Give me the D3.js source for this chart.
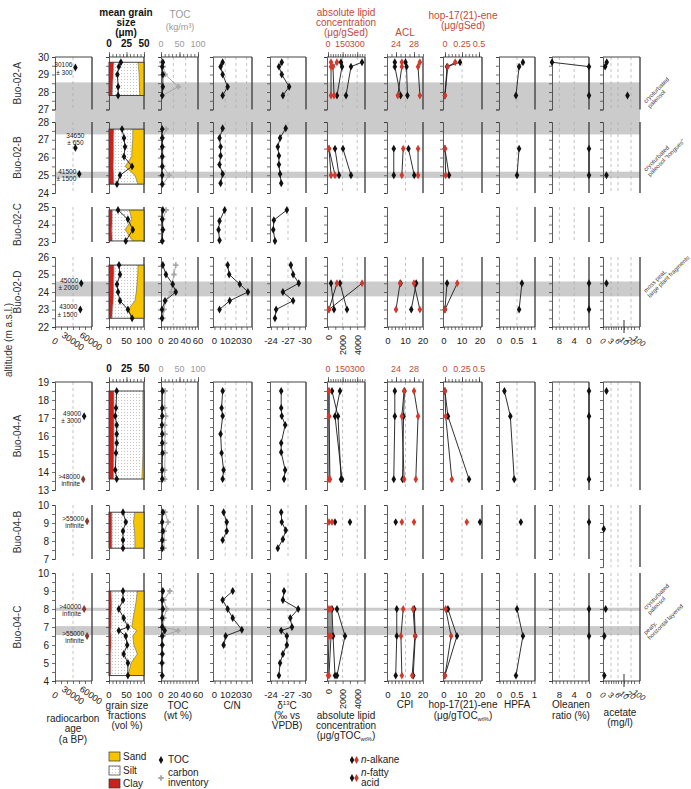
<!DOCTYPE html>
<html>
<head>
<meta charset="utf-8">
<script src="https://cdn.jsdelivr.net/npm/d3@7"></script>
<style>
body { margin: 0; background: #fff; }
svg { font-family: "Liberation Sans", Arial, sans-serif; }
</style>
</head>
<body>
<svg id="chart" width="691" height="789"></svg>
<script>
// ---------- data ----------
var sections = ["Buo-02-A", "Buo-02-B", "Buo-02-C", "Buo-02-D", "Buo-04-A", "Buo-04-B", "Buo-04-C"];
var altMax = [30, 28, 25, 26, 19, 10, 10];
var altMin = [27, 24, 23, 22, 13, 7, 4];

// grain size / TOC samples
var grainAlt = [
  [29.7, 29.45, 29.0, 28.3, 27.8],
  [27.6, 27.1, 26.6, 26.05, 25.5, 25.0, 24.5],
  [24.83, 24.3, 23.7, 23.06],
  [25.54, 25.0, 24.45, 24.0, 23.5, 23.0, 22.5],
  [18.5, 17.56, 17.11, 16.61, 16.11, 15.61, 15.06, 14.11, 13.61],
  [9.6, 9.05, 8.55, 8.05, 7.6],
  [9.0, 8.5, 8.0, 7.5, 7.0, 6.8, 6.5, 6.0, 5.5, 5.0, 4.3]
];
var meanGrain = [
  [17, 14, 12, 13, 13],
  [18.6, 21.4, 22.9, 21.4, 32.9, 15.7, 11.4],
  [12.9, 27, 34, 24],
  [14.3, 15.7, 11.4, 12.9, 15.7, 27, 33],
  [11, 10, 9, 11, 11, 11, 10, 9, 11],
  [20, 24, 20, 20, 20],
  [20, 20, 14, 21, 27, 14, 24, 26, 21, 27, 27]
];
var clayPct = [
  [14, 13, 12, 10, 9],
  [14, 13, 13, 13, 12, 13, 14],
  [9, 9, 8, 9],
  [14, 14, 13, 13, 12, 10, 8],
  [14, 14, 14, 14, 14, 14, 14, 13, 13],
  [8, 8, 8, 8, 8],
  [6, 7, 7, 6, 6, 5, 6, 6, 5, 5, 5]
];
var sandPct = [
  [17, 16, 14, 13, 12],
  [32, 32, 34, 35, 54, 26, 17],
  [42, 35, 54, 32],
  [17, 18, 20, 22, 26, 45, 35],
  [3, 3, 3, 3, 3, 3, 3, 5, 6],
  [26, 30, 27, 26, 26],
  [19, 22, 26, 31, 35, 21, 32, 29, 19, 37, 45]
];
var tocWt = [
  [3, 2, 3, 3, 2],
  [2, 2, 2, 2, 2, 2, 2],
  [3, 2, 3, 2],
  [3, 8, 19, 24, 6.5, 1.6, 1.6],
  [2.5, 2, 2, 1.5, 2, 2, 2.5, 2, 2],
  [3, 2, 3, 2, 2],
  [3, 2, 3, 2, 2, 6, 2, 2, 2, 1.5, 2]
];
var carbonInv = [
  [2, 6, 11, 47, 4],
  [14, 4, 5, 5, 5, 22, 5],
  [14, 5, 5, 4],
  [40, 35, 30, 28, 12, 8, 5],
  [11, 10, 13, 10, 11, 10, 11, 10, 10],
  [11, 19, 9, 8, 8],
  [24, 8, 15, 8, 6, 46, 5, 4, 4, 4, 4]
];

// C/N
var cnAlt = [
  [29.7, 29.45, 29.0, 28.3, 27.8],
  [27.65, 27.1, 26.6, 26.1, 25.6, 25.07, 24.55],
  [24.83, 24.2, 23.7, 23.1],
  [25.54, 25.0, 24.45, 24.0, 23.5, 23.0],
  [18.5, 17.56, 17.11, 16.11, 15.06, 14.11, 13.61],
  [9.6, 9.05, 8.55, 8.05],
  [9.0, 8.5, 8.0, 7.5, 6.85, 6.5, 6.0]
];
var cnRatio = [
  [7.6, 5.7, 7.6, 12.3, 7.6],
  [7.6, 4.7, 5.7, 5.7, 4.7, 7.6, 5.7],
  [9.5, 4.7, 3.8, 4.7],
  [12.3, 13.7, 23.6, 31.2, 14.2, 4.7],
  [7.6, 6.6, 7.6, 5.7, 6.6, 8.5, 7.6],
  [8.5, 11.4, 11.4, 7.6],
  [17, 7.6, 12.3, 17, 25.5, 10.4, 8.5]
];

// delta 13C
var d13Alt = [
  [29.7, 29.45, 29.0, 28.3, 27.8],
  [27.65, 27.1, 26.6, 26.1, 25.6, 25.07, 24.55],
  [24.83, 24.25, 23.7, 23.06],
  [25.54, 25.0, 24.5, 24.0, 23.5, 23.0, 22.5],
  [18.5, 17.56, 17.11, 16.61, 15.61, 15.1, 14.11, 13.61],
  [9.6, 9.05, 8.6, 8.1, 7.6],
  [9.0, 8.5, 8.0, 7.5, 7.0, 6.8, 6.5, 6.0, 5.5, 5.0, 4.3]
];
var d13C = [
  [-25.9, -25.4, -25.9, -27.2, -26.1],
  [-26.6, -25.6, -25.2, -25.4, -25.4, -25.6, -25.8],
  [-26.8, -24.5, -24.4, -24.7],
  [-27.5, -27.9, -28.9, -26.1, -27.9, -24.9, -24.7],
  [-25.8, -25.8, -25.9, -26.5, -25.8, -25.8, -26.5, -26.3],
  [-25.8, -25.9, -26.6, -26.1, -25.2],
  [-26.3, -26.1, -28.8, -27.4, -27.7, -25.8, -26.8, -26.8, -26.1, -25.6, -25.4]
];

// biomarker samples
var bioAlt = [[29.7, 29.45, 27.8], [26.5, 25.0], [], [24.5, 23.0], [18.5, 17.1, 13.6], [9.05], [8.0, 6.5, 4.3]];
var alkaneToc = [[1780, 1920, 1230], [960, 1510], [], [410, 820], [550, 1370, 1780], [960], [550, 690, 960]];
var fattyToc = [[4660, 3150, 2470], [2050, 3150], [], [1640, 2600], [1640, 960, 1920], [3010], [1230, 2330, 1230]];
var alkaneSed = [[31, 31, 31], [10, 31], [], [350, 10], [10, 10, 10], [10], [10, 10, 0]];
var fattySed = [[92, 51, 62], [10, 72], [], [92, 10], [10, 10, 20], [41], [31, 31, 10]];
var cpiAlk = [[3.9, 3.9, 7.2], [3.3, 3.3], [], [7.2, null], [3.9, 3.9, 3.3], [4.4], [5, 5, 4.4]];
var cpiFa = [[10, 10.6, 11.1], [11.7, 15], [], [16.1, 13.3], [9.4, 8.9, 8.3], [null], [15, 15.6, 14.4]];
var aclAlk = [[25.3, 25.3, 24.4], [25.6, 25.3], [], [24.9, 24.0], [25.8, 25.3, 25.8], [25.3], [25.6, 25.1, 25.3]];
var aclFa = [[29.3, 28.9, 29.3], [28.9, 28.9], [], [28.0, 29.3], [28.0, 28.9, 28.4], [28.0], [27.8, 28.2, 27.6]];
var hopToc = [[8.9, 1.7, 0.5], [0.5, 2.8], [], [1.7, 0.5], [0.5, 2.2, 13.9], [20], [2.2, 7.2, 0.5]];
var hopSed = [[0.15, 0.04, 0], [0, 0.01], [], [0.18, 0], [0, 0.01, 0.1], [0.32], [0.01, 0.09, 0]];
var hpfa = [[0.67, 0.56, 0.47], [0.56, 0.5], [], [0.64, 0.56], [0.14, 0.31, 0.42], [0.61], [0.5, 0.67, 0.47]];
var oleanen = [[10, 0, 0], [0, 0], [], [0, 0], [0, 0, 0], [0], [0, 0, null]];

// acetate
var aceAlt = [[29.7, 29.45, 27.8], [25.0], [], [24.5], [18.5], [8.67], [8.0, 6.5, 4.3]];
var acetate = [[1.4, 0.8, 15], [1.3], [], [1.3], [1.3], [0.3], [1.0, 0.5, 0.5]];

// radiocarbon
var rcAlt = [[29.4], [26.54, 25.07], [], [24.5, 23.0], [17.1, 13.6], [9.1], [8.0, 6.5]];
var rcAge = [[34000], [34000, 40500], [], [43800, 42200], [48600, 47000], [53500], [48600, 53500]];
var rcText = [["30106"], ["34650", "41500"], [], ["45000", "43000"], ["49000", ">48000"], [">55000"], [">40000", ">55000"]];
var rcErr = [["± 300"], ["± 650", "± 1500"], [], ["± 2000", "± 1500"], ["± 3000", "infinite"], ["infinite"], ["infinite", "infinite"]];

// highlighted layers: [section, altitude, section, altitude]
var bands = [[0, 28.55, 1, 27.3], [1, 25.2, 1, 24.85], [3, 24.6, 3, 23.75], [6, 8.07, 6, 7.9], [6, 7.05, 6, 6.55]];
var notes = [
  [0, 27.35, "cryoturbated", "paleosol"],
  [1, 25.2, "cryoturbated", "paleosol \"tongues\""],
  [3, 23.95, "moss peat,", "large plant fragments"],
  [6, 7.95, "cryoturbated", "paleosol"],
  [6, 6.55, "peaty,", "horizontal layered"]
];

// ---------- layout ----------
var RED = "#c44a35", REDDOT = "#d4382b", INK = "#222", FONT = "Liberation Sans, Arial, sans-serif";
var clayColor = "#c8231b", sandColor = "#f6c500";
var secTop = [57, 122, 207, 257, 382, 505, 573];
var ppm = [17.5, 17.75, 17.5, 17.5, 18, 18, 18];
var firstOfGroup = [true, false, false, false, true, false, false];
var lastOfGroup = [false, false, false, true, false, false, true];

var ys = sections.map(function (s, i) {
  return d3.scaleLinear().domain([altMin[i], altMax[i]])
    .range([secTop[i] + (altMax[i] - altMin[i]) * ppm[i], secTop[i]]);
});

var cols = {
  rc: [55, 92], grain: [109, 144], toc: [161, 198], cn: [213, 252], d13c: [270, 306],
  lipid: [327, 365], cpi: [387, 423], hop: [443, 482], hpfa: [499, 535], olean: [552, 589], acet: [603, 640]
};

var xRc = d3.scaleLinear().domain([0, 60000]).range([55, 91]);
var xVol = d3.scaleLinear().domain([0, 100]).range([109, 144]);
var xMg = d3.scaleLinear().domain([0, 50]).range([109, 144]);
var xToc = d3.scaleLinear().domain([0, 60]).range([161, 198]);
var xInv = d3.scaleLinear().domain([0, 100]).range([161, 198]);
var xCn = d3.scaleLinear().domain([0, 35]).range([214.5, 252]);
var xD13 = d3.scaleLinear().domain([-24, -30]).range([271, 305]);
var xLipT = d3.scaleLinear().domain([0, 5000]).range([328, 364.5]);
var xLipS = d3.scaleLinear().domain([0, 375]).range([328, 364.5]);
var xCpi = d3.scaleLinear().domain([0, 20]).range([388, 423]);
var xAcl = d3.scaleLinear().domain([22, 30]).range([387, 423]);
var xHopT = d3.scaleLinear().domain([0, 20]).range([444, 480]);
var xHopS = d3.scaleLinear().domain([0, 0.5]).range([445, 479]);
var xHpfa = d3.scaleLinear().domain([0, 1]).range([499.5, 534.5]);
var xOle = d3.scaleLinear().domain([10, 0]).range([552, 589]);
var xAce = d3.scaleLinear().domain([0, 3, 6, 10, 20, 100]).range([603, 611, 618, 624, 631, 639]);

var panelDefs = [
  { key: "rc", bx: xRc, dash: [30000], bMajor: [0, 30000, 60000], bMinor: d3.range(0, 60001, 10000), bRot: 35 },
  { key: "grain", bx: xVol, dash: [], bMajor: [0, 50, 100], bMinor: d3.range(0, 101, 10),
    tx: xMg, tMajor: [0, 25, 50], tMinor: d3.range(0, 51, 5), tColor: "#111", tBold: true },
  { key: "toc", bx: xToc, dash: [20, 40], bMajor: [0, 20, 40, 60], bMinor: d3.range(0, 61, 5),
    tx: xInv, tMajor: [0, 50, 100], tMinor: d3.range(0, 101, 10), tColor: "#9a9a9a" },
  { key: "cn", bx: xCn, dash: [10, 20, 30], bMajor: [0, 10, 20, 30], bMinor: d3.range(0, 36, 5) },
  { key: "d13c", bx: xD13, dash: [-27], bMajor: [-24, -27, -30], bMinor: d3.range(-24, -30.5, -1) },
  { key: "lipid", bx: xLipT, dash: [2000, 4000], bMajor: [0, 2000, 4000], bMinor: d3.range(0, 5001, 1000), bRot: -90,
    tx: xLipS, tMajor: [0, 150, 300], tMinor: d3.range(0, 376, 25), tColor: RED },
  { key: "cpi", bx: xCpi, dash: [10], bMajor: [0, 10, 20], bMinor: d3.range(0, 21, 2),
    tx: xAcl, tMajor: [24, 28], tMinor: d3.range(22, 31, 1), tColor: RED },
  { key: "hop", bx: xHopT, dash: [10], bMajor: [0, 10, 20], bMinor: d3.range(0, 21, 2),
    tx: xHopS, tMajor: [0, 0.25, 0.5], tMinor: d3.range(0, 0.51, 0.05), tColor: RED },
  { key: "hpfa", bx: xHpfa, dash: [0.5], bMajor: [0, 0.5, 1], bMinor: d3.range(0, 1.01, 0.1) },
  { key: "olean", bx: xOle, dash: [8, 4], bMajor: [8, 4, 0], bMinor: d3.range(0, 11, 1) },
  { key: "acet", bx: xAce, dash: [3, 6, 20], bMajor: [0, 3, 6, 10, 20, 100], bMinor: [0, 1, 2, 3, 4, 5, 6, 8, 10, 15, 20, 50, 100], bRot: 35 }
];

var svg = d3.select("#chart");
var defs = svg.append("defs");
var pat = defs.append("pattern").attr("id", "silt").attr("width", 3).attr("height", 3)
  .attr("patternUnits", "userSpaceOnUse");
pat.append("rect").attr("width", 3).attr("height", 3).attr("fill", "#fff");
pat.append("circle").attr("cx", 1.5).attr("cy", 1.5).attr("r", 0.45).attr("fill", "#888");

var gBand = svg.append("g"), gPanel = svg.append("g"), gFill = svg.append("g"),
    gLine = svg.append("g"), gMark = svg.append("g"), gText = svg.append("g");

function styleAxis(ga) {
  ga.attr("font-family", FONT);
  ga.select(".domain").attr("stroke", "#333").attr("stroke-width", 0.8);
  ga.selectAll(".tick line").attr("stroke", "#333").attr("stroke-width", 0.7);
  ga.selectAll(".tick text").attr("fill", INK).attr("font-size", 10);
}

function label(g, x, y, txt, opt) {
  opt = opt || {};
  return g.append("text").attr("x", x).attr("y", y).text(txt)
    .attr("font-size", opt.size || 10).attr("fill", opt.color || INK)
    .attr("text-anchor", opt.anchor || "middle")
    .attr("font-weight", opt.bold ? "bold" : null);
}

// gray bands
bands.forEach(function (b) {
  var y1 = ys[b[0]](b[1]), y2 = ys[b[2]](b[3]);
  gBand.append("rect").attr("x", 55).attr("width", 585).attr("y", y1).attr("height", y2 - y1)
    .attr("fill", "#cbcbcb");
});

// panel frames and axes
function drawPanel(si, pi) {
  var d = panelDefs[pi], c = cols[d.key], y = ys[si];
  var lo = altMin[si], hi = altMax[si];
  if (d.key == "acet" && si == 5) lo = 6.55;
  var yTop = y(hi), yBot = y(lo);
  var g = gPanel.append("g");
  var bare = si == 2 && ["lipid", "cpi", "hop", "acet"].indexOf(d.key) >= 0;

  if (!bare) {
    d.dash.forEach(function (v) {
      g.append("line").attr("x1", d.bx(v)).attr("x2", d.bx(v)).attr("y1", yTop).attr("y2", yBot)
        .attr("stroke", "#aaa").attr("stroke-width", 0.7).attr("stroke-dasharray", "3,3");
    });
    g.append("line").attr("x1", c[1]).attr("x2", c[1]).attr("y1", yTop).attr("y2", yBot)
      .attr("stroke", "#444").attr("stroke-width", 1.4);
  }

  var sub = d3.scaleLinear().domain([lo, hi]).range([yBot, yTop]);
  var ax = d3.axisLeft(sub).tickValues(d3.range(Math.ceil(lo * 2) / 2, hi + 0.01, 0.5))
    .tickSize(3).tickSizeOuter(3).tickPadding(3)
    .tickFormat(function (v) { return (pi == 0 && v % 1 == 0) ? v : ""; });
  styleAxis(g.append("g").attr("transform", "translate(" + c[0] + ",0)").call(ax));

  if (firstOfGroup[si]) {
    g.append("line").attr("x1", c[0]).attr("x2", c[1]).attr("y1", yTop).attr("y2", yTop)
      .attr("stroke", "#444").attr("stroke-width", 1);
    if (d.tx) {
      var ta = g.append("g").attr("transform", "translate(0," + yTop + ")")
        .call(d3.axisTop(d.tx).tickValues(d.tMinor).tickSize(3).tickSizeOuter(0).tickFormat(""));
      ta.select(".domain").remove();
      styleAxis(ta);
      var tb = g.append("g").attr("transform", "translate(0," + yTop + ")")
        .call(d3.axisTop(d.tx).tickValues(d.tMajor).tickSize(5).tickSizeOuter(0).tickFormat(""));
      tb.select(".domain").remove();
      styleAxis(tb);
      d.tMajor.forEach(function (v) {
        label(gText, d.tx(v), yTop - 10, v, { color: d.tColor, bold: d.tBold, size: d.tBold ? 10 : 9 });
      });
    }
  }

  if (lastOfGroup[si] && !bare) {
    g.append("line").attr("x1", c[0]).attr("x2", c[1]).attr("y1", yBot).attr("y2", yBot)
      .attr("stroke", "#333").attr("stroke-width", 0.9);
    var ba = g.append("g").attr("transform", "translate(0," + yBot + ")")
      .call(d3.axisBottom(d.bx).tickValues(d.bMinor).tickSize(3).tickSizeOuter(0).tickFormat(""));
    ba.select(".domain").remove();
    styleAxis(ba);
    if (d.key == "acet") {
      g.append("line").attr("x1", xAce(10)).attr("x2", xAce(10)).attr("y1", yBot - 7).attr("y2", yBot + 6)
        .attr("stroke", "#333").attr("stroke-width", 1);
    }
    d.bMajor.forEach(function (v) {
      var x = d.bx(v);
      if (d.bRot == -90) {
        label(gText, 0, 0, v, { anchor: "end", size: 9 })
          .attr("transform", "translate(" + (x + 3.5) + "," + (yBot + 8) + ") rotate(-90)");
      } else if (d.bRot) {
        label(gText, 0, 0, v, { size: d.key == "acet" ? 8 : 9 }).attr("dy", "0.35em")
          .attr("font-style", d.key == "acet" ? "italic" : null)
          .attr("transform", "translate(" + x + "," + (yBot + 14) + ") rotate(" + d.bRot + ")");
      } else {
        label(gText, x, yBot + 17, v, { size: 9.5 });
      }
    });
  }
}

sections.forEach(function (s, si) {
  panelDefs.forEach(function (d, pi) { drawPanel(si, pi); });
});

// generic series: line + markers
function plot(si, alts, vals, xs, st) {
  st = st || {};
  var y = ys[si], pts = [];
  alts.forEach(function (a, i) { if (vals[i] != null) pts.push([xs(vals[i]), y(a)]); });
  if (!pts.length) return;
  if (st.line !== false && pts.length > 1) {
    gLine.append("path").datum(pts).attr("d", d3.line())
      .attr("fill", "none").attr("stroke", st.stroke || "#1a1a1a").attr("stroke-width", 0.9);
  }
  gMark.selectAll(null).data(pts).enter().append("path")
    .attr("transform", function (p) { return "translate(" + p[0] + "," + p[1] + ")"; })
    .attr("d", d3.symbol().type(st.sym || d3.symbolDiamond).size(st.size || 18))
    .attr("fill", st.fill || "#111");
}

// stacked grain size fractions
function grain(si) {
  var y = ys[si];
  var rows = grainAlt[si].map(function (a, i) {
    return { a: a, c: clayPct[si][i], s: sandPct[si][i] };
  });
  var yA = function (d) { return y(d.a); };
  gFill.append("path").datum(rows).attr("fill", clayColor)
    .attr("d", d3.area().y(yA).x0(xVol(0)).x1(function (d) { return xVol(d.c); }));
  gFill.append("path").datum(rows).attr("fill", "url(#silt)")
    .attr("d", d3.area().y(yA).x0(function (d) { return xVol(d.c); }).x1(function (d) { return xVol(100 - d.s); }));
  gFill.append("path").datum(rows).attr("fill", sandColor)
    .attr("d", d3.area().y(yA).x0(function (d) { return xVol(100 - d.s); }).x1(xVol(100)));
  gFill.append("path").datum(rows).attr("fill", "none").attr("stroke", "#666").attr("stroke-width", 0.6)
    .attr("d", d3.line().y(yA).x(function (d) { return xVol(d.c); }));
  gFill.append("path").datum(rows).attr("fill", "none").attr("stroke", "#666").attr("stroke-width", 0.6)
    .attr("d", d3.line().y(yA).x(function (d) { return xVol(100 - d.s); }));
  var t = y(rows[0].a), b = y(rows[rows.length - 1].a);
  gFill.append("rect").attr("x", xVol(0)).attr("y", t).attr("width", xVol(100) - xVol(0)).attr("height", b - t)
    .attr("fill", "none").attr("stroke", "#333").attr("stroke-width", 0.9);
}

sections.forEach(function (s, si) {
  grain(si);
  plot(si, grainAlt[si], meanGrain[si], xMg);
  plot(si, grainAlt[si], carbonInv[si], xInv, { stroke: "#a0a0a0", sym: d3.symbolCross, fill: "#a8a8a8", size: 16 });
  plot(si, grainAlt[si], tocWt[si], xToc);
  plot(si, cnAlt[si], cnRatio[si], xCn);
  plot(si, d13Alt[si], d13C[si], xD13);
  plot(si, bioAlt[si], alkaneToc[si], xLipT);
  plot(si, bioAlt[si], fattyToc[si], xLipT);
  plot(si, bioAlt[si], alkaneSed[si], xLipS, { fill: REDDOT });
  plot(si, bioAlt[si], fattySed[si], xLipS, { fill: REDDOT });
  plot(si, bioAlt[si], cpiAlk[si], xCpi);
  plot(si, bioAlt[si], cpiFa[si], xCpi);
  plot(si, bioAlt[si], aclAlk[si], xAcl, { fill: REDDOT });
  plot(si, bioAlt[si], aclFa[si], xAcl, { fill: REDDOT });
  plot(si, bioAlt[si], hopToc[si], xHopT);
  plot(si, bioAlt[si], hopSed[si], xHopS, { fill: REDDOT });
  plot(si, bioAlt[si], hpfa[si], xHpfa);
  plot(si, bioAlt[si], oleanen[si], xOle);
  plot(si, aceAlt[si], acetate[si], xAce, { line: false });

  // radiocarbon dates with their labels
  rcAlt[si].forEach(function (a, i) {
    var x = xRc(rcAge[si][i]), y = ys[si](a);
    var inf = rcErr[si][i] == "infinite";
    gMark.append("path").attr("transform", "translate(" + x + "," + y + ")")
      .attr("d", d3.symbol().type(d3.symbolDiamond).size(18)).attr("fill", inf ? "#8a3b30" : "#111");
    if (si == 1 && i == 0) {
      label(gText, x, y - 9.5, rcText[si][i], { size: 6.5 });
      label(gText, x, y - 2.5, rcErr[si][i], { size: 6.5 });
    } else {
      label(gText, x - 3, y - 0.5, rcText[si][i], { size: 6.5, anchor: "end" });
      label(gText, x - 3, y + 7, rcErr[si][i], { size: 6.5, anchor: "end" });
    }
  });

  label(gText, 0, 0, s, { color: "#333" })
    .attr("transform", "translate(21," + ys[si]((altMin[si] + altMax[si]) / 2) + ") rotate(-90)");
});

label(gText, 0, 0, "altitude (m a.s.l.)", { color: "#333" })
  .attr("transform", "translate(12,340) rotate(-90)");

// layer notes on the right
notes.forEach(function (n) {
  var y = ys[n[0]](n[1]);
  label(gText, 0, 0, n[2], { size: 6, anchor: "start", color: "#444" })
    .attr("transform", "translate(646," + y + ") rotate(-45)");
  label(gText, 0, 0, n[3], { size: 6, anchor: "start", color: "#444" })
    .attr("transform", "translate(650," + (y + 5) + ") rotate(-45)");
});

// column headings, top
[["mean grain", 16], ["size", 26], ["(μm)", 36]].forEach(function (t) {
  label(gText, 126, t[1], t[0], { bold: true, color: "#111" });
});
label(gText, 180, 18, "TOC", { color: "#9a9a9a" });
label(gText, 180, 30, "(kg/m³)", { color: "#9a9a9a", size: 9 });
[["absolute lipid", 16], ["concentration", 26], ["(μg/gSed)", 36]].forEach(function (t) {
  label(gText, 346, t[1], t[0], { color: RED });
});
label(gText, 405, 36, "ACL", { color: RED });
label(gText, 463, 19, "hop-17(21)-ene", { color: RED });
label(gText, 463, 29, "(μg/gSed)", { color: RED });

// column headings, bottom
function lines(x, arr) {
  arr.forEach(function (t) { label(gText, x, t[1], t[0]); });
}
lines(73, [["radiocarbon", 722], ["age", 732], ["(a BP)", 743]]);
lines(127, [["grain size", 709], ["fractions", 719], ["(vol %)", 729]]);
lines(178, [["TOC", 709], ["(wt %)", 719]]);
lines(232, [["C/N", 709]]);
var dt = label(gText, 287, 709, "δ");
dt.append("tspan").attr("font-size", 6).attr("dy", -4).text("13");
dt.append("tspan").attr("dy", 4).text("C");
lines(287, [["(‰ vs", 719], ["VPDB)", 729]]);
lines(346, [["absolute lipid", 719], ["concentration", 729]]);
function tocSub(x, y) {
  var t = label(gText, x, y, "(μg/gTOC");
  t.append("tspan").attr("font-size", 6).attr("dy", 2).text("wt%");
  t.append("tspan").attr("dy", -2).text(")");
}
tocSub(346, 739);
lines(405, [["CPI", 708]]);
lines(463, [["hop-17(21)-ene", 708]]);
tocSub(463, 719);
lines(517, [["HPFA", 708]]);
lines(571, [["Oleanen", 708], ["ratio (%)", 719]]);
lines(620, [["acetate", 716], ["(mg/l)", 726]]);

// legend
var legG = gText.append("g");
[["Sand", sandColor, 752], ["Silt", "url(#silt)", 766], ["Clay", clayColor, 779]].forEach(function (l) {
  legG.append("rect").attr("x", 109).attr("y", l[2]).attr("width", 11).attr("height", 9)
    .attr("fill", l[1]).attr("stroke", "#333").attr("stroke-width", 0.7);
  label(legG, 123, l[2] + 8, l[0], { anchor: "start" });
});
legG.append("path").attr("transform", "translate(161,760)")
  .attr("d", d3.symbol().type(d3.symbolDiamond).size(18)).attr("fill", "#111");
label(legG, 168, 763, "TOC", { anchor: "start" });
legG.append("path").attr("transform", "translate(161,778)")
  .attr("d", d3.symbol().type(d3.symbolCross).size(16)).attr("fill", "#a8a8a8");
label(legG, 168, 776, "carbon", { anchor: "start" });
label(legG, 168, 786, "inventory", { anchor: "start" });
[[760, "alkane"], [778, "fatty"]].forEach(function (l) {
  legG.append("path").attr("transform", "translate(352," + l[0] + ")")
    .attr("d", d3.symbol().type(d3.symbolDiamond).size(18)).attr("fill", "#111");
  legG.append("path").attr("transform", "translate(356.5," + l[0] + ")")
    .attr("d", d3.symbol().type(d3.symbolDiamond).size(18)).attr("fill", REDDOT);
});
var na = label(legG, 361, 763, "", { anchor: "start" });
na.append("tspan").attr("font-style", "italic").text("n");
na.append("tspan").text("-alkane");
var nf = label(legG, 361, 776, "", { anchor: "start" });
nf.append("tspan").attr("font-style", "italic").text("n");
nf.append("tspan").text("-fatty");
label(legG, 361, 786, "acid", { anchor: "start" });
</script>
</body>
</html>
